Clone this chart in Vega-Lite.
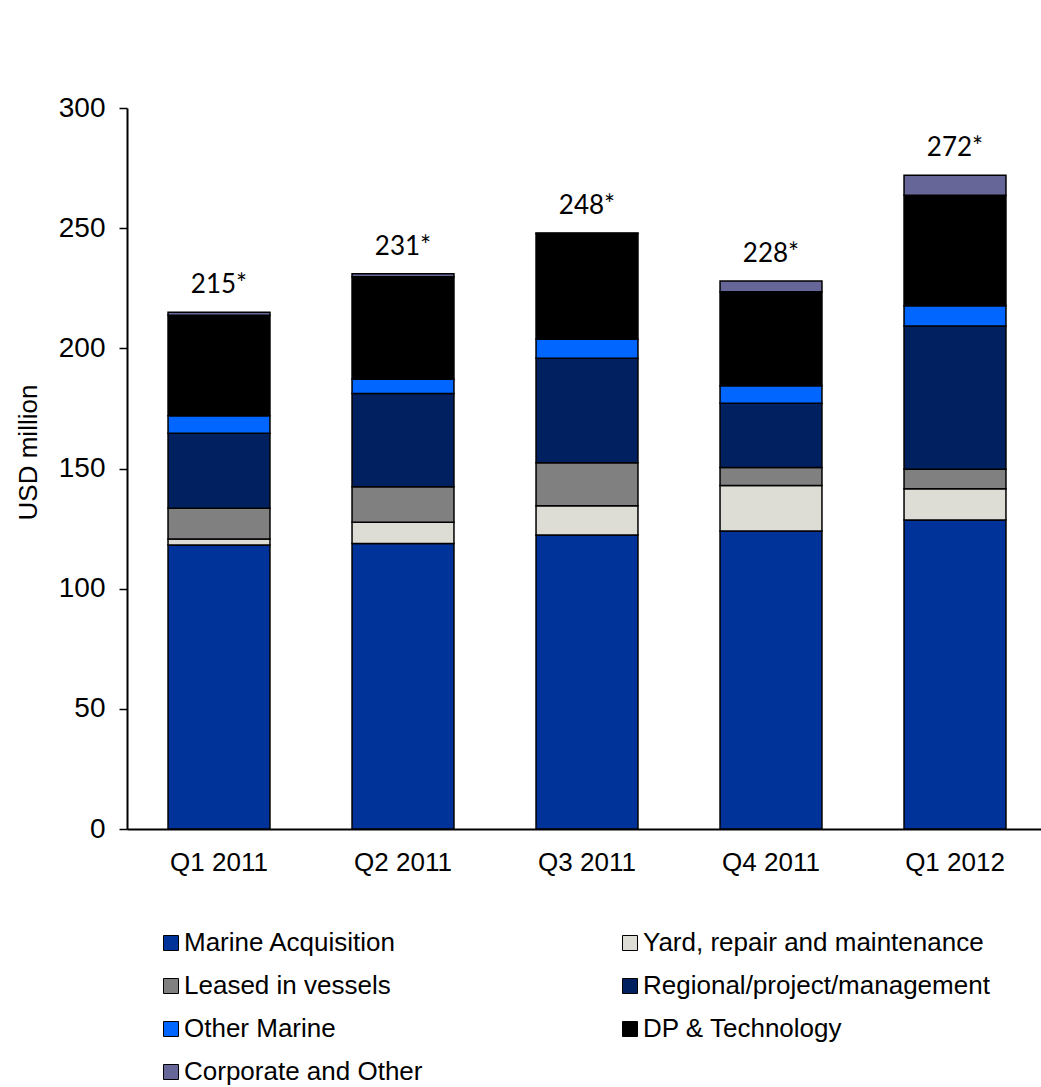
{
  "$schema": "https://vega.github.io/schema/vega-lite/v6.json",
  "width": 920,
  "height": 721,
  "autosize": {"type": "none"},
  "padding": {"left": 127, "top": 108, "right": 0, "bottom": 258},
  "background": "white",
  "config": {
    "view": {"stroke": null},
    "font": "Liberation Sans"
  },
  "layer": [
    {
      "data": {
        "values": [
          {"quarter": "Q1 2011", "segment": "Marine Acquisition", "ord": 1, "value": 118.2},
          {"quarter": "Q1 2011", "segment": "Yard, repair and maintenance", "ord": 2, "value": 2.5},
          {"quarter": "Q1 2011", "segment": "Leased in vessels", "ord": 3, "value": 12.8},
          {"quarter": "Q1 2011", "segment": "Regional/project/management", "ord": 4, "value": 31.2},
          {"quarter": "Q1 2011", "segment": "Other Marine", "ord": 5, "value": 7.2},
          {"quarter": "Q1 2011", "segment": "DP & Technology", "ord": 6, "value": 41.9},
          {"quarter": "Q1 2011", "segment": "Corporate and Other", "ord": 7, "value": 1.2},
          {"quarter": "Q2 2011", "segment": "Marine Acquisition", "ord": 1, "value": 118.8},
          {"quarter": "Q2 2011", "segment": "Yard, repair and maintenance", "ord": 2, "value": 8.8},
          {"quarter": "Q2 2011", "segment": "Leased in vessels", "ord": 3, "value": 14.8},
          {"quarter": "Q2 2011", "segment": "Regional/project/management", "ord": 4, "value": 38.8},
          {"quarter": "Q2 2011", "segment": "Other Marine", "ord": 5, "value": 5.9},
          {"quarter": "Q2 2011", "segment": "DP & Technology", "ord": 6, "value": 42.7},
          {"quarter": "Q2 2011", "segment": "Corporate and Other", "ord": 7, "value": 1.2},
          {"quarter": "Q3 2011", "segment": "Marine Acquisition", "ord": 1, "value": 122.3},
          {"quarter": "Q3 2011", "segment": "Yard, repair and maintenance", "ord": 2, "value": 12.2},
          {"quarter": "Q3 2011", "segment": "Leased in vessels", "ord": 3, "value": 17.9},
          {"quarter": "Q3 2011", "segment": "Regional/project/management", "ord": 4, "value": 43.5},
          {"quarter": "Q3 2011", "segment": "Other Marine", "ord": 5, "value": 7.9},
          {"quarter": "Q3 2011", "segment": "DP & Technology", "ord": 6, "value": 44.0},
          {"quarter": "Q3 2011", "segment": "Corporate and Other", "ord": 7, "value": 0.2},
          {"quarter": "Q4 2011", "segment": "Marine Acquisition", "ord": 1, "value": 124.0},
          {"quarter": "Q4 2011", "segment": "Yard, repair and maintenance", "ord": 2, "value": 18.9},
          {"quarter": "Q4 2011", "segment": "Leased in vessels", "ord": 3, "value": 7.5},
          {"quarter": "Q4 2011", "segment": "Regional/project/management", "ord": 4, "value": 26.7},
          {"quarter": "Q4 2011", "segment": "Other Marine", "ord": 5, "value": 7.3},
          {"quarter": "Q4 2011", "segment": "DP & Technology", "ord": 6, "value": 39.1},
          {"quarter": "Q4 2011", "segment": "Corporate and Other", "ord": 7, "value": 4.5},
          {"quarter": "Q1 2012", "segment": "Marine Acquisition", "ord": 1, "value": 128.6},
          {"quarter": "Q1 2012", "segment": "Yard, repair and maintenance", "ord": 2, "value": 13.0},
          {"quarter": "Q1 2012", "segment": "Leased in vessels", "ord": 3, "value": 8.1},
          {"quarter": "Q1 2012", "segment": "Regional/project/management", "ord": 4, "value": 59.6},
          {"quarter": "Q1 2012", "segment": "Other Marine", "ord": 5, "value": 8.4},
          {"quarter": "Q1 2012", "segment": "DP & Technology", "ord": 6, "value": 46.0},
          {"quarter": "Q1 2012", "segment": "Corporate and Other", "ord": 7, "value": 8.3}
        ]
      },
      "mark": {"type": "bar", "stroke": "black", "strokeWidth": 1.5},
      "encoding": {
        "x": {
          "field": "quarter",
          "type": "nominal",
          "sort": ["Q1 2011", "Q2 2011", "Q3 2011", "Q4 2011", "Q1 2012"],
          "scale": {"paddingInner": 0.446, "paddingOuter": 0.223},
          "axis": {
            "title": null,
            "labelAngle": 0,
            "labelFontSize": 26,
            "labelColor": "black",
            "labelPadding": 20,
            "ticks": false,
            "domainColor": "black",
            "domainWidth": 2
          }
        },
        "y": {
          "field": "value",
          "type": "quantitative",
          "stack": "zero",
          "scale": {"domain": [0, 300], "nice": false},
          "axis": {
            "title": "USD million",
            "titleFontSize": 26,
            "titleFontWeight": "normal",
            "titleColor": "black",
            "titlePadding": 17,
            "titleY": 344,
            "titleAlign": "center",
            "values": [0, 50, 100, 150, 200, 250, 300],
            "labelFontSize": 28,
            "labelColor": "black",
            "labelPadding": 14,
            "tickSize": 8,
            "tickColor": "black",
            "tickWidth": 1.5,
            "domainColor": "black",
            "domainWidth": 2,
            "grid": false
          }
        },
        "order": {"field": "ord", "type": "quantitative", "sort": "ascending"},
        "color": {
          "field": "segment",
          "type": "nominal",
          "sort": ["Marine Acquisition", "Yard, repair and maintenance", "Leased in vessels", "Regional/project/management", "Other Marine", "DP & Technology", "Corporate and Other"],
          "scale": {
            "domain": ["Marine Acquisition", "Yard, repair and maintenance", "Leased in vessels", "Regional/project/management", "Other Marine", "DP & Technology", "Corporate and Other"],
            "range": ["#003399", "#DDDDD5", "#808080", "#00205F", "#0066FF", "#000000", "#666699"]
          },
          "legend": {
            "title": null,
            "orient": "none",
            "legendX": 31,
            "legendY": 822,
            "direction": "horizontal",
            "columns": 2,
            "columnPadding": 194,
            "rowPadding": 17,
            "symbolType": "square",
            "symbolSize": 225,
            "symbolStrokeColor": "black",
            "symbolStrokeWidth": 1,
            "symbolOpacity": 1,
            "labelFontSize": 26,
            "labelColor": "black",
            "labelOffset": 0,
            "labelLimit": 500
          }
        }
      }
    },
    {
      "data": {
        "values": [
          {"quarter": "Q1 2011", "total": 215, "label": "215*"},
          {"quarter": "Q2 2011", "total": 231, "label": "231*"},
          {"quarter": "Q3 2011", "total": 248, "label": "248*"},
          {"quarter": "Q4 2011", "total": 228, "label": "228*"},
          {"quarter": "Q1 2012", "total": 272, "label": "272*"}
        ]
      },
      "mark": {"type": "text", "baseline": "bottom", "dy": -14, "font": "Lato", "fontSize": 26, "color": "black"},
      "encoding": {
        "x": {"field": "quarter", "type": "nominal", "sort": ["Q1 2011", "Q2 2011", "Q3 2011", "Q4 2011", "Q1 2012"]},
        "y": {"field": "total", "type": "quantitative"},
        "text": {"field": "label"}
      }
    }
  ]
}
